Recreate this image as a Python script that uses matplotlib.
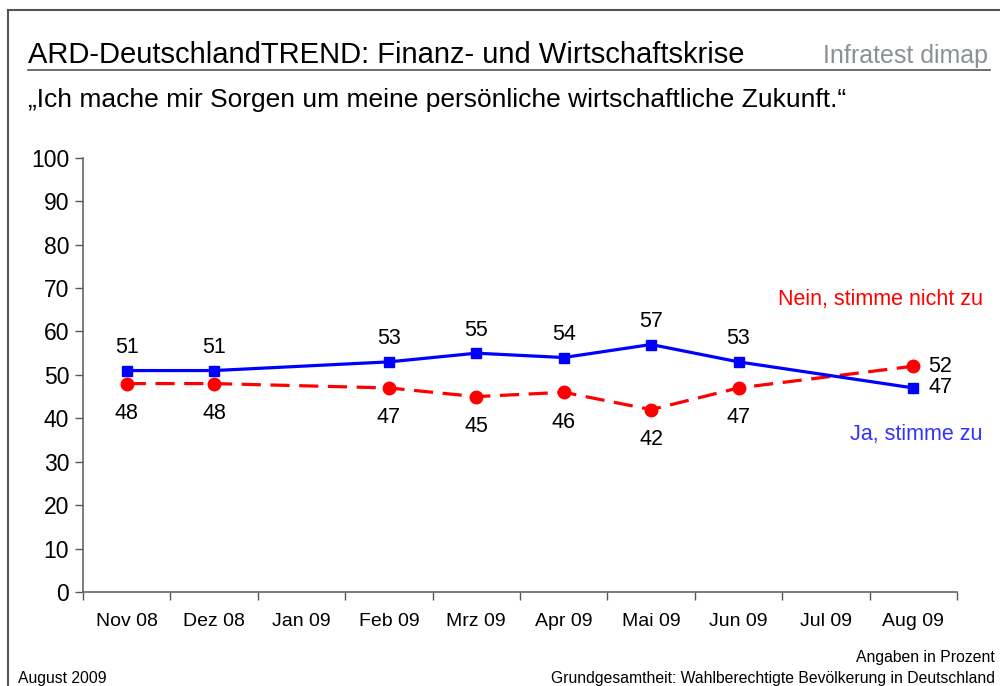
import matplotlib
matplotlib.use("Agg")
from matplotlib import pyplot as plt
from matplotlib.lines import Line2D
import numpy as np

months = ["Nov 08", "Dez 08", "Jan 09", "Feb 09", "Mrz 09", "Apr 09", "Mai 09", "Jun 09", "Jul 09", "Aug 09"]
ja = [51, 51, None, 53, 55, 54, 57, 53, None, 47]
nein = [48, 48, None, 47, 45, 46, 42, 47, None, 52]

plt.rcParams['font.family'] = ['Liberation Sans', 'DejaVu Sans']

fig = plt.figure(figsize=(10, 6.86), dpi=100)
ax = fig.add_axes([0.083, 0.137, 0.874, 0.633])

x = np.arange(len(months))
ja_x = [i for i, v in enumerate(ja) if v is not None]
ja_y = [v for v in ja if v is not None]
ne_x = [i for i, v in enumerate(nein) if v is not None]
ne_y = [v for v in nein if v is not None]

ax.plot(ne_x, ne_y, color='#ff0000', linestyle=(0, (6, 3)), linewidth=2.3,
        marker='o', markersize=9, zorder=3)
ax.plot(ja_x, ja_y, color='#0000ff', linestyle='-', linewidth=2.3,
        marker='s', markersize=7.5, zorder=4)

last = len(months) - 1
for i, v in zip(ja_x, ja_y):
    if i == last:
        ax.annotate(str(v), (i, v), xytext=(11, 0), textcoords='offset points',
                    ha='left', va='center', fontsize=15.5)
    else:
        ax.annotate(str(v), (i, v), xytext=(0, 9), textcoords='offset points',
                    ha='center', va='bottom', fontsize=15.5)
for i, v in zip(ne_x, ne_y):
    if i == last:
        ax.annotate(str(v), (i, v), xytext=(11, 0), textcoords='offset points',
                    ha='left', va='center', fontsize=15.5)
    else:
        ax.annotate(str(v), (i, v), xytext=(0, -14), textcoords='offset points',
                    ha='center', va='top', fontsize=15.5)

ax.set_xlim(-0.5, len(months) - 0.5)
ax.set_ylim(0, 100)
ax.set_yticks(np.arange(0, 101, 10))
ax.tick_params(axis='y', labelsize=16.5, length=6, width=1, color='#555555', pad=4)
ax.set_xticks(x)
ax.set_xticklabels(months)
ax.set_xticks(np.arange(-0.5, len(months)), minor=True)
ax.tick_params(axis='x', which='major', length=0, labelsize=14, pad=15)
ax.tick_params(axis='x', which='minor', length=6, width=1, color='#555555')
for s in ['top', 'right']:
    ax.spines[s].set_visible(False)
for s in ['left', 'bottom']:
    ax.spines[s].set_color('#666666')
    ax.spines[s].set_linewidth(1.2)

# series labels
fig.text(0.983, 0.563, "Nein, stimme nicht zu", color='#ff0000', fontsize=15.5, ha='right', va='center')
fig.text(0.983, 0.367, "Ja, stimme zu", color='#3333ff', fontsize=15.5, ha='right', va='center')

# frame and header
fig.add_artist(Line2D([0.008, 1.0], [1 - 10 / 686, 1 - 10 / 686], color='#555555', linewidth=1.5))
fig.add_artist(Line2D([0.008, 0.008], [0, 1 - 10 / 686], color='#555555', linewidth=1.5))
fig.add_artist(Line2D([0.028, 0.99], [1 - 70 / 686, 1 - 70 / 686], color='#555555', linewidth=1.2))

fig.text(0.028, 1 - 63 / 686, "ARD-DeutschlandTREND: Finanz- und Wirtschaftskrise",
         fontsize=21, ha='left', va='baseline')
fig.text(0.988, 1 - 63 / 686, "Infratest dimap", color='#8a9196', fontsize=18,
         ha='right', va='baseline')
fig.text(0.028, 1 - 107 / 686, "\u201eIch mache mir Sorgen um meine pers\u00f6nliche wirtschaftliche Zukunft.\u201c",
         fontsize=19, ha='left', va='baseline')

# footer
fig.text(0.018, 1 - 683 / 686, "August 2009", fontsize=11.3, ha='left', va='baseline')
fig.text(0.995, 1 - 662 / 686, "Angaben in Prozent", fontsize=11.3, ha='right', va='baseline')
fig.text(0.995, 1 - 683 / 686, "Grundgesamtheit: Wahlberechtigte Bev\u00f6lkerung in Deutschland",
         fontsize=11.3, ha='right', va='baseline')

fig.savefig("out.png", dpi=100, facecolor='white')
